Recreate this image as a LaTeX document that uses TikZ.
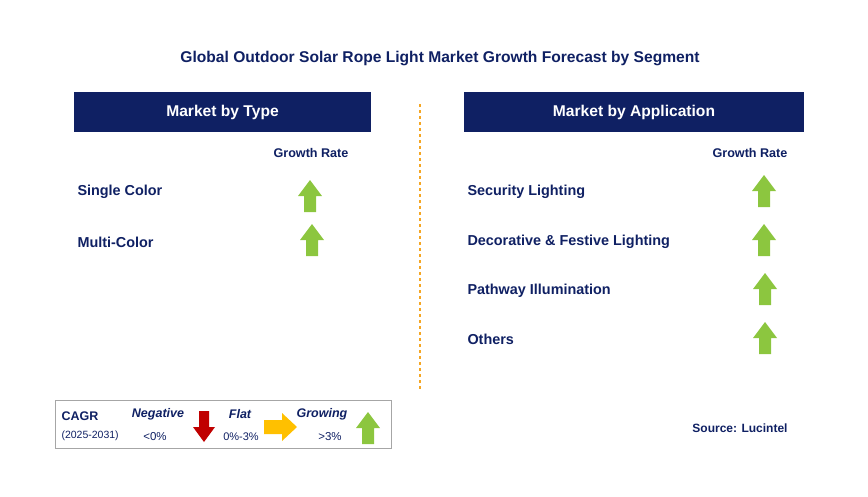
\documentclass[tikz,border=0pt]{standalone}
\usepackage{fontspec}
\setmainfont{Liberation Sans}
\begin{document}
\begin{tikzpicture}[x=1pt,y=-1pt,font=\bfseries,
  txt/.style={text=navy,anchor=west,font=\fontsize{14.4}{17}\selectfont\bfseries},
  hdr/.style={fill=navy,text=white,minimum height=40pt,font=\fontsize{15.6}{19}\selectfont\bfseries},
  gr/.style={text=navy,font=\fontsize{12.6}{15}\selectfont\bfseries}]
\definecolor{navy}{HTML}{0F2063}
\definecolor{garrow}{HTML}{8CC63F}
\definecolor{rarrow}{HTML}{C00000}
\definecolor{oarrow}{HTML}{FFC000}
\definecolor{dashcol}{HTML}{F5A623}
\newcommand{\uparr}[2]{\fill[garrow] (#1-6,#2+16) -- (#1-6,#2) -- (#1-12,#2) -- (#1,#2-16) -- (#1+12,#2) -- (#1+6,#2) -- (#1+6,#2+16) -- cycle;}
\useasboundingbox (0,0) rectangle (868,496);
\node[text=navy,font=\fontsize{15.6}{18}\selectfont\bfseries] (title) at (440,58) {Global Outdoor Solar Rope Light Market Growth Forecast by Segment};
\node[hdr,minimum width=297pt] (h1) at (222.5,112) {Market by Type};
\node[hdr,minimum width=340pt] (h2) at (634,112) {Market by Application};
\draw[dashcol,dashed,line width=1.2pt] (420,104) -- (420,390);
\node[gr] (g1) at (311,153) {Growth Rate};
\node[gr] (g2) at (750,153) {Growth Rate};
\node[txt] (a1) at (74,192) {Single Color};
\node[txt] (a2) at (74,242) {Multi-Color};
\uparr{310}{196}\uparr{312}{240}
\node[txt] (b1) at (464,192) {Security Lighting};
\node[txt] (b2) at (464,242) {Decorative \& Festive Lighting};
\node[txt] (b3) at (464,291) {Pathway Illumination};
\node[txt] (b4) at (464,339) {Others};
\uparr{764}{191}\uparr{764}{240}\uparr{765}{289}\uparr{765}{338}
\draw[gray!70,line width=1pt] (55,400) rectangle (391,448);
\node[text=navy,anchor=west,font=\fontsize{12.5}{14}\selectfont\bfseries] (c1) at (58,416) {CAGR};
\node[text=navy,anchor=west,font=\fontsize{10.5}{13}\selectfont] (c2) at (58,436) {(2025-2031)};
\node[text=navy,font=\fontsize{12.5}{15}\selectfont\bfseries\itshape] (n1) at (158,414) {Negative};
\node[text=navy,font=\fontsize{11.5}{13}\selectfont] (n2) at (155,437) {<0\%};
\fill[rarrow] (199,411) -- (209,411) -- (209,427) -- (215,427) -- (204,442) -- (193,427) -- (199,427) -- cycle;
\node[text=navy,font=\fontsize{12.5}{15}\selectfont\bfseries\itshape] (f1) at (240,414) {Flat};
\node[text=navy,font=\fontsize{11}{13}\selectfont] (f2) at (241,437) {0\%-3\%};
\fill[oarrow] (264,420) -- (282,420) -- (282,413) -- (297,427) -- (282,441) -- (282,434) -- (264,434) -- cycle;
\node[text=navy,font=\fontsize{12.5}{15}\selectfont\bfseries\itshape] (p1) at (322,414) {Growing};
\node[text=navy,font=\fontsize{11.5}{13}\selectfont] (p2) at (330,437) {>3\%};
\uparr{368}{428}
\node[text=navy,font=\fontsize{12}{14}\selectfont\bfseries] (src) at (740,428) {Source: Lucintel};
\end{tikzpicture}
\end{document}
